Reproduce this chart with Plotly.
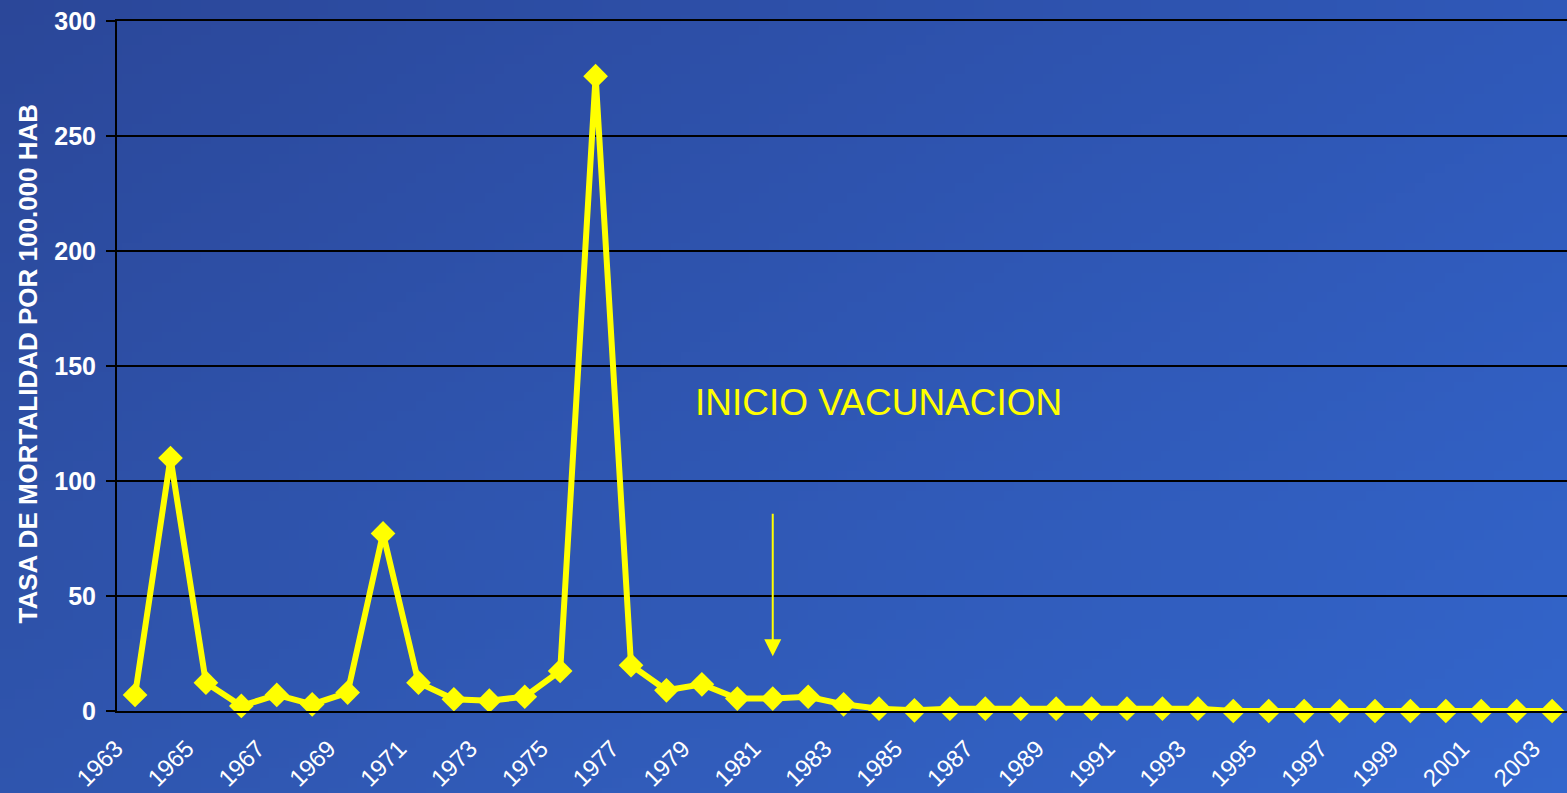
import base64, struct, zlib
import plotly.graph_objects as go

years = list(range(1963, 2004))
tasa = [7, 110, 12.3, 2.2, 7, 2.9, 8, 77.2, 12.3, 5.1,
        4.5, 6.2, 17.4, 276, 19.9, 9, 11.6, 5.4, 5.4, 6.2,
        2.9, 1, 0.3, 1, 1, 1, 1, 1, 1, 1,
        1, 0, 0, 0, 0, 0, 0, 0, 0, 0,
        0]
tick_years = list(range(1963, 2004, 2))
tick_labels = [str(y) for y in tick_years]
y_ticks = [0, 50, 100, 150, 200, 250, 300]

W, H = 1567, 793


def gradient_png(w, h, tl, tr, bl, br):
    rows = []
    for j in range(h):
        v = j / (h - 1)
        row = bytearray([0])
        for i in range(w):
            u = i / (w - 1)
            px = []
            for k in range(3):
                top = tl[k] * (1 - u) + tr[k] * u
                bot = bl[k] * (1 - u) + br[k] * u
                px.append(int(round(top * (1 - v) + bot * v)))
            row.extend(px)
        rows.append(bytes(row))
    raw = b"".join(rows)

    def chunk(t, d):
        c = struct.pack(">I", len(d)) + t + d
        return c + struct.pack(">I", zlib.crc32(t + d) & 0xFFFFFFFF)

    png = b"\x89PNG\r\n\x1a\n"
    png += chunk(b"IHDR", struct.pack(">IIBBBBB", w, h, 8, 2, 0, 0, 0))
    png += chunk(b"IDAT", zlib.compress(raw, 9))
    png += chunk(b"IEND", b"")
    return "data:image/png;base64," + base64.b64encode(png).decode()


bg = gradient_png(160, 80, (0x2B, 0x47, 0x99), (0x2F, 0x58, 0xB8),
                  (0x2F, 0x55, 0xAE), (0x33, 0x66, 0xCC))

FONT = "Liberation Sans, Arial, sans-serif"

fig = go.Figure()
fig.add_trace(go.Scatter(
    x=years, y=tasa, mode="lines+markers",
    line=dict(color="#FFFF00", width=6),
    marker=dict(symbol="diamond", size=19, color="#FFFF00"),
    cliponaxis=False, showlegend=False, hoverinfo="x+y"))

fig.add_annotation(x=1981, y=23.8, ax=1981, ay=86.4, xref="x", yref="y",
                   axref="x", ayref="y", showarrow=True, arrowhead=2,
                   arrowsize=1.7, arrowwidth=2, arrowcolor="#FFFF00", text="")
fig.add_annotation(x=1978.75, y=134, xref="x", yref="y", text="INICIO VACUNACION",
                   showarrow=False, xanchor="left", yanchor="middle",
                   font=dict(family=FONT, size=37, color="#FFFF00"))
fig.add_annotation(x=(27 - 117) / 1450, y=(711 - 363.5) / 690, xref="paper",
                   yref="paper", text="TASA DE MORTALIDAD POR 100.000 HAB",
                   textangle=-90, showarrow=False, xanchor="center",
                   yanchor="middle",
                   font=dict(family=FONT, size=26, color="white", weight="bold"))

fig.update_layout(
    width=W, height=H,
    margin=dict(l=117, r=0, t=21, b=82, pad=0, autoexpand=False),
    paper_bgcolor="#2F55AE", plot_bgcolor="rgba(0,0,0,0)",
    images=[dict(source=bg, xref="paper", yref="paper",
                 x=-117 / 1450, y=1 + 21 / 690,
                 sizex=W / 1450, sizey=H / 690,
                 xanchor="left", yanchor="top", sizing="stretch",
                 layer="below")],
    xaxis=dict(range=[1962.49, 2003.42], tickmode="array", tickvals=tick_years,
               ticktext=tick_labels, tickangle=-45, showgrid=False,
               zeroline=False, showline=True, mirror=True, linecolor="black",
               linewidth=2, ticks="", automargin=False,
               tickfont=dict(family=FONT, size=24, color="white"),
               ticklabelshift=-19, ticklabelstandoff=12),
    yaxis=dict(range=[0, 300], tickmode="array", tickvals=y_ticks,
               showgrid=True, gridcolor="black", gridwidth=2,
               zeroline=False, showline=True, linecolor="black", linewidth=2,
               ticks="outside", ticklen=9, tickcolor="black", tickwidth=2,
               ticklabelstandoff=5, automargin=False,
               tickfont=dict(family=FONT, size=25, color="white", weight="bold")),
)

fig.write_html("out.html", config={"displayModeBar": False},
               post_script="document.body.style.margin='0';"
               "document.body.style.overflow='hidden';")
